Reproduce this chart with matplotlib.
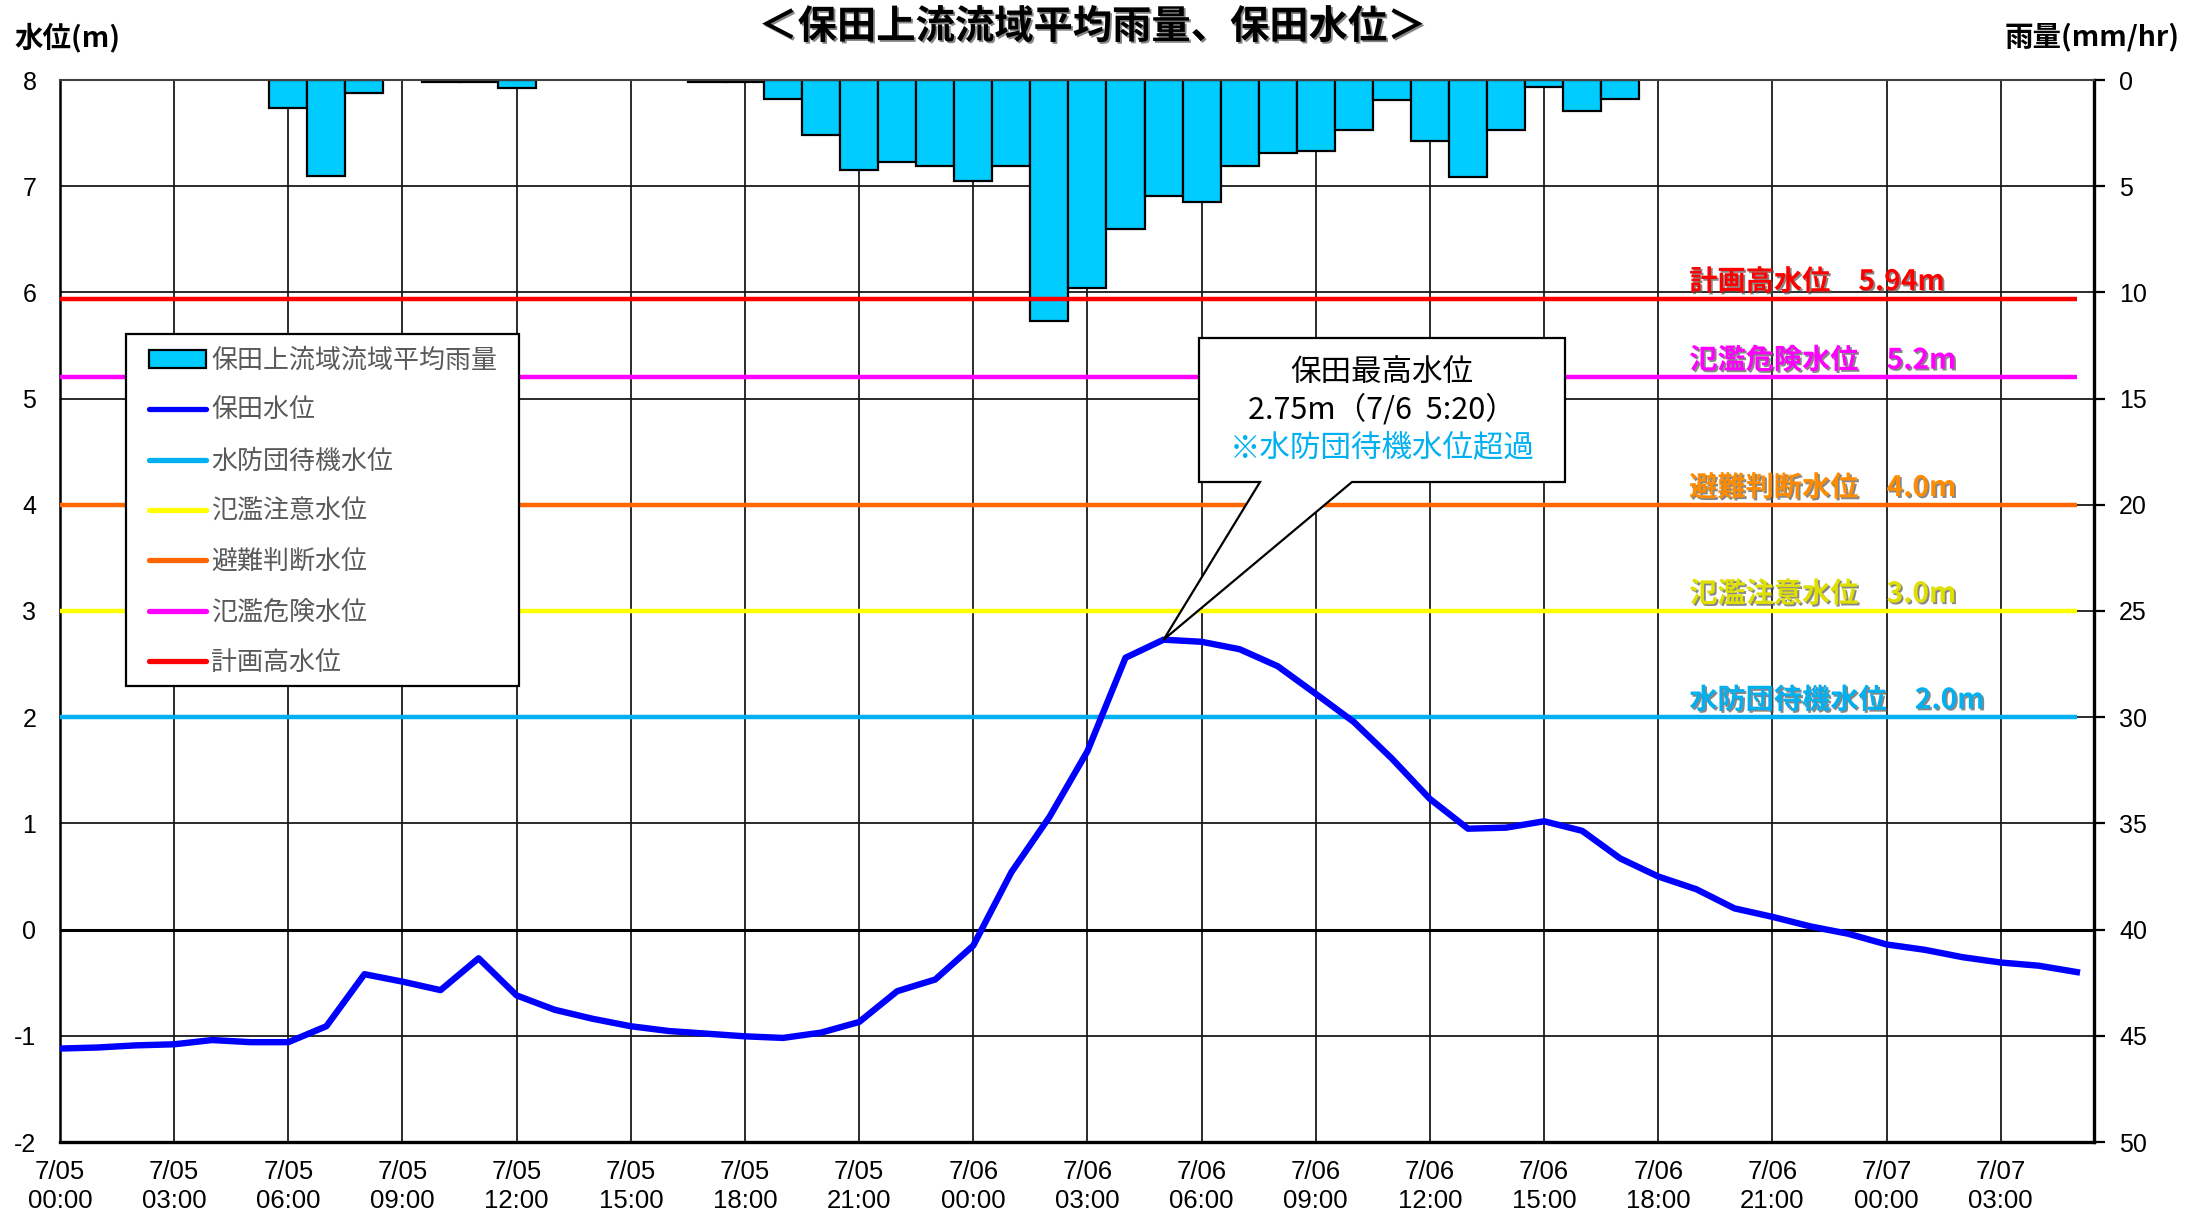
import matplotlib
matplotlib.use("Agg")
import matplotlib.pyplot as plt
import matplotlib.patheffects as pe
from matplotlib.patches import Rectangle, Polygon, Patch
from matplotlib.lines import Line2D
from matplotlib import font_manager as fm
import numpy as np

# ---------------- data ----------------
hours = list(range(54))  # elapsed hours from 7/05 00:00
rain = [0, 0, 0, 0, 0, 0, 1.3, 4.5, 0.6, 0, 0.1, 0.1, 0.4, 0, 0, 0, 0, 0.1, 0.1, 0.9,
        2.6, 4.25, 3.85, 4.05, 4.75, 4.05, 11.35, 9.8, 7.0, 5.45, 5.75, 4.05, 3.45, 3.35,
        2.35, 0.95, 2.85, 4.55, 2.35, 0.35, 1.45, 0.9, 0, 0, 0, 0, 0, 0, 0, 0, 0, 0, 0, 0]
level = [-1.12, -1.11, -1.09, -1.08, -1.04, -1.06, -1.06, -0.91, -0.42, -0.49, -0.57, -0.27,
         -0.62, -0.755, -0.84, -0.91, -0.955, -0.98, -1.005, -1.02, -0.97, -0.87, -0.58, -0.47,
         -0.15, 0.54, 1.06, 1.68, 2.56, 2.73, 2.71, 2.64, 2.48, 2.22, 1.955, 1.61, 1.23, 0.95,
         0.96, 1.02, 0.93, 0.67, 0.50, 0.38, 0.20, 0.12, 0.03, -0.04, -0.14, -0.19, -0.26,
         -0.31, -0.34, -0.40]
xtick_hours = list(range(0, 54, 3))
xtick_labels = ["7/05\n00:00", "7/05\n03:00", "7/05\n06:00", "7/05\n09:00", "7/05\n12:00",
                "7/05\n15:00", "7/05\n18:00", "7/05\n21:00", "7/06\n00:00", "7/06\n03:00",
                "7/06\n06:00", "7/06\n09:00", "7/06\n12:00", "7/06\n15:00", "7/06\n18:00",
                "7/06\n21:00", "7/07\n00:00", "7/07\n03:00"]
level_ticks = list(range(-2, 9))
rain_ticks = list(range(0, 55, 5))

thr_names = ["計画高水位", "氾濫危険水位", "避難判断水位", "氾濫注意水位", "水防団待機水位"]
thr_values = [5.94, 5.2, 4.0, 3.0, 2.0]
thr_texts = ["計画高水位　5.94m", "氾濫危険水位　5.2m", "避難判断水位　4.0m",
             "氾濫注意水位　3.0m", "水防団待機水位　2.0m"]
thr_colors = ["#FF0000", "#FF00FF", "#FF6600", "#FFFF00", "#00B0F0"]
thr_text_colors = ["#FF0000", "#FF00FF", "#FF8C00", "#E0E000", "#00B0F0"]

title = "＜保田上流流域平均雨量、保田水位＞"
rain_label = "保田上流域流域平均雨量"
level_label = "保田水位"
peak_lines = ["保田最高水位", "2.75m（7/6  5:20）", "※水防団待機水位超過"]

# ---------------- fonts ----------------
plt.rcParams['font.family'] = ['Noto Sans CJK JP', 'DejaVu Sans']
avail = {f.name for f in fm.fontManager.ttflist}
num_font = 'Liberation Sans Narrow' if 'Liberation Sans Narrow' in avail else 'Liberation Sans'

W, H = 2190, 1214
fig = plt.figure(figsize=(W / 100, H / 100), dpi=100)
fig.patch.set_facecolor('white')

L, R, T, B = 60, 2094, 80, 1142
axr = fig.add_axes([L / W, 1 - B / H, (R - L) / W, (B - T) / H])  # rain (bottom layer)
axl = axr.twinx()  # level (top layer)
axr.yaxis.tick_right()
axl.yaxis.tick_left()

xmax = 53.45
axr.set_xlim(0, xmax)
axr.set_ylim(50, 0)
axl.set_ylim(-2, 8)

# grid on rain axis (below bars)
axr.set_axisbelow(True)
axr.set_xticks(xtick_hours)
axr.set_xticklabels(xtick_labels, fontfamily=num_font, fontsize=18.5, linespacing=1.25)
axr.set_yticks(rain_ticks)
axr.set_yticklabels([str(v) for v in rain_ticks], fontfamily=num_font, fontsize=18)
axr.grid(True, color='#1a1a1a', lw=1.3)
axr.tick_params(axis='x', length=0, pad=13)
axr.tick_params(axis='y', length=8, width=1.6, direction='out', pad=10, right=True, left=False)

# bars
bx = [h for h, r in zip(hours, rain) if r > 0]
by = [r for r in rain if r > 0]
axr.bar(bx, by, width=1.0, color='#00CCFF', edgecolor='black', linewidth=1.6, zorder=2)

# level axis
axl.set_yticks(level_ticks)
axl.set_yticklabels([str(v) for v in level_ticks], fontfamily=num_font, fontsize=18)
axl.tick_params(axis='y', length=0, pad=17, left=True, right=False)
axl.axhline(0, color='black', lw=2.2, zorder=1)
axl.hlines(thr_values, hours[0], hours[-1], colors=thr_colors, lw=3.2, zorder=3)
axl.plot(hours, level, color='#0000FF', lw=4.6, zorder=5)

# spines
for s in axl.spines.values():
    s.set_visible(False)
axr.spines['left'].set_linewidth(1.8)
axr.spines['bottom'].set_linewidth(2.4)
axr.spines['right'].set_linewidth(2.4)
axr.spines['top'].set_linewidth(1.5)
axr.spines['top'].set_color('#404040')

shadow = [pe.SimplePatchShadow(offset=(1.3, -1.3), shadow_rgbFace='#555555', alpha=0.7), pe.Normal()]

# threshold labels
for txt, v, c in zip(thr_texts, thr_values, thr_text_colors):
    axl.annotate(txt, xy=(0.801, v), xycoords=('axes fraction', 'data'),
                 xytext=(0, 12), textcoords='offset points', ha='left', va='center',
                 fontsize=20.3, fontweight='bold', color=c, path_effects=shadow, zorder=6)

# titles
fig.text(0.4986, 1 - 27 / H, title, ha='center', va='center', fontsize=28.3,
         fontweight='bold', path_effects=shadow)
fig.text(14 / W, 1 - 37 / H, "水位(m)", ha='left', va='center', fontsize=20.5, fontweight='bold')
fig.text(2180 / W, 1 - 37 / H, "雨量(mm/hr)", ha='right', va='center', fontsize=20.5, fontweight='bold')

# legend
fig.add_artist(Rectangle((126 / W, 1 - 686 / H), 393 / W, 352 / H, transform=fig.transFigure,
                         facecolor='white', edgecolor='black', lw=1.6, zorder=4))
handles = [Patch(facecolor='#00CCFF', edgecolor='black', lw=1.6),
           Line2D([], [], color='#0000FF', lw=3.8, solid_capstyle='round')]
labels = [rain_label, level_label]
legend_order = [4, 3, 2, 1, 0]
for i in legend_order:
    handles.append(Line2D([], [], color=thr_colors[i], lw=3.8, solid_capstyle='round'))
    labels.append(thr_names[i])
leg = fig.legend(handles, labels, loc='upper left', bbox_to_anchor=(136 / W, 1 - 334 / H),
                 bbox_transform=fig.transFigure, frameon=False, fontsize=18.7,
                 labelcolor='#595959', borderpad=0.5, labelspacing=0.9,
                 handlelength=2.2, handletextpad=0.2, borderaxespad=0)
leg.set_zorder(5)

# peak callout
ipk = int(np.argmax(level))
apex_disp = axl.transData.transform((hours[ipk], level[ipk]))
ax_fx, ax_fy = fig.transFigure.inverted().transform(apex_disp)
bx0, bx1 = 1199 / W, 1565 / W
by_top, by_bot = 1 - 338 / H, 1 - 482 / H
tl, tr = 1260 / W, 1352 / W
pts = [(bx0, by_top), (bx1, by_top), (bx1, by_bot), (tr, by_bot), (ax_fx, ax_fy),
       (tl, by_bot), (bx0, by_bot)]
fig.add_artist(Polygon(pts, closed=True, transform=fig.transFigure, facecolor='white',
                       edgecolor='black', lw=1.6, zorder=6))
cx = (bx0 + bx1) / 2
for k, (ln, col) in enumerate(zip(peak_lines, ['black', 'black', '#00B0F0'])):
    fig.text(cx, 1 - (372 + 38 * k) / H, ln, ha='center', va='center', fontsize=22,
             color=col, zorder=7)

fig.savefig("out.png", dpi=100, facecolor='white')
